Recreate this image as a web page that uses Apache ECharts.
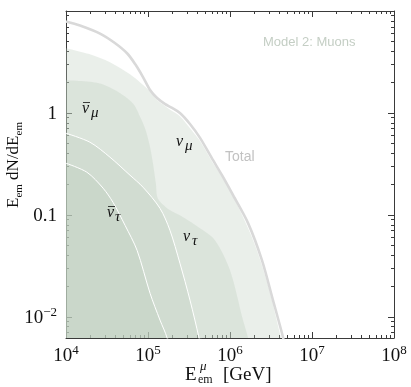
<!DOCTYPE html>
<html>
<head>
<meta charset="utf-8">
<script src="https://cdn.jsdelivr.net/npm/echarts@6/dist/echarts.min.js"></script>
<style>html,body{margin:0;padding:0;background:#fff}#c{width:411px;height:387px}</style>
</head>
<body>
<div id="c"></div>
<script>
// ---- data (E in GeV, dN/dE values) ----
var nuMuX   = [1.0e4, 1.96e4, 3.44e4, 6.03e4, 8.1e4, 1.06e5, 1.3e5, 1.61e5, 1.95e5, 2.45e5, 3.2e5, 4.31e5, 6.21e5, 8.69e5, 1.32e6, 2.02e6, 2.90e6, 4.19e6, 4.56e6];
var nuMuY   = [4.31, 3.76, 3.14, 2.39, 1.98, 1.63, 1.33, 1.17, 1.05, 0.93, 0.72, 0.53, 0.321, 0.214, 0.111, 0.0505, 0.0205, 0.0062, 0.0047];
var nuMuBarX = [1.0e4, 2.52e4, 4.1e4, 6.56e4, 8.2e4, 9.46e4, 1.06e5, 1.15e5, 1.25e5, 1.32e5, 1.8e5, 2.45e5, 4.31e5, 6.56e5, 1.0e6, 1.44e6, 1.66e6, 1.75e6];
var nuMuBarY = [2.09, 1.96, 1.65, 1.24, 0.88, 0.66, 0.46, 0.32, 0.2, 0.145, 0.113, 0.099, 0.074, 0.0565, 0.0287, 0.0093, 0.0062, 0.0045];
var nuTauX  = [1.0e4, 1.96e4, 3.44e4, 6.03e4, 8.69e4, 1.40e5, 1.85e5, 2.45e5, 3.25e5, 4.19e5, 4.5e5];
var nuTauY  = [0.632, 0.516, 0.368, 0.245, 0.187, 0.116, 0.0708, 0.0336, 0.0146, 0.0062, 0.0045];
var nuTauBarX = [1.0e4, 1.80e4, 2.83e4, 3.74e4, 5.25e4, 7.35e4, 1.06e5, 1.40e5, 1.71e5, 1.8e5];
var nuTauBarY = [0.321, 0.262, 0.183, 0.133, 0.079, 0.045, 0.017, 0.0093, 0.0062, 0.0045];
var totalX  = [1.0e4, 1.48e4, 2.60e4, 3.94e4, 5.55e4, 7.0e4, 8.69e4, 1.06e5, 1.29e5, 1.62e5, 1.97e5, 2.45e5, 3.25e5, 4.31e5, 6.21e5, 7.98e5, 1.09e6, 1.66e6, 2.45e6, 3.34e6, 4.43e6, 4.8e6];
var totalY  = [7.9, 7.2, 6.0, 4.85, 3.85, 3.0, 2.25, 1.68, 1.40, 1.22, 1.12, 1.0, 0.78, 0.57, 0.344, 0.245, 0.156, 0.083, 0.036, 0.0146, 0.0063, 0.0045];

// ---- ticks ----
var xMajorTicks = [1e4, 1e5, 1e6, 1e7, 1e8];
var xTickExp    = ['4', '5', '6', '7', '8'];
var yMajorTicks = [0.01, 0.1, 1, 10];
var yTickLabels = ['10^−2', '0.1', '1', ''];
var minorMult   = [2, 3, 4, 5, 6, 7, 8, 9];

function minors(decades) {
  var out = [];
  decades.forEach(function (d) { minorMult.forEach(function (m) { out.push(d * m); }); });
  return out;
}
var xMinorTicks = minors([1e4, 1e5, 1e6, 1e7]);
var yMinorTicks = minors([0.001, 0.01, 0.1, 1]).filter(function (v) { return v > 0.0062 && v < 10; });

function pairs(xs, ys) { return xs.map(function (x, i) { return [x, ys[i]]; }); }

var AX = '#3a3a3a';
var SERIF = '"Liberation Serif","DejaVu Serif",serif';
var SANS = '"Liberation Sans",Arial,sans-serif';
var FILL = 'rgba(190,204,189,0.45)';

var richTick = {
  b: { fontFamily: SERIF, fontSize: 19, color: '#111', lineHeight: 22, verticalAlign: 'bottom' },
  s: { fontFamily: SERIF, fontSize: 13, color: '#111', lineHeight: 22, verticalAlign: 'top', padding: [0, 0, 8, 0] }
};

function xAxisDef(pos, major) {
  return {
    type: 'log', logBase: 10, min: 1e4, max: 1e8, position: pos, gridIndex: 0,
    axisLine: { show: major, onZero: false, lineStyle: { color: AX, width: 1 } },
    axisTick: { show: true, inside: true, length: major ? 6 : 3, lineStyle: { color: AX, width: 1 },
                customValues: major ? xMajorTicks : xMinorTicks },
    axisLabel: { show: major && pos === 'bottom', margin: 6, customValues: xMajorTicks,
      formatter: function (v) {
        var i = xMajorTicks.findIndex(function (t) { return Math.abs(Math.log10(t) - Math.log10(v)) < 1e-6; });
        return i < 0 ? '' : '{b|10}{s|' + xTickExp[i] + '}';
      }, rich: richTick },
    splitLine: { show: false }, minorTick: { show: false }
  };
}
function yAxisDef(pos, major) {
  return {
    type: 'log', logBase: 10, min: 0.0062, max: 10, position: pos, gridIndex: 0,
    axisLine: { show: major, onZero: false, lineStyle: { color: AX, width: 1 } },
    axisTick: { show: true, inside: true, length: major ? 6 : 3, lineStyle: { color: AX, width: 1 },
                customValues: major ? yMajorTicks : yMinorTicks },
    axisLabel: { show: major && pos === 'left', margin: 9, customValues: yMajorTicks,
      formatter: function (v) {
        var i = yMajorTicks.findIndex(function (t) { return Math.abs(Math.log10(t) - Math.log10(v)) < 1e-6; });
        if (i < 0) return '';
        var l = yTickLabels[i];
        if (l.indexOf('^') >= 0) { var p = l.split('^'); return '{b|' + p[0] + '}{s|' + p[1] + '}'; }
        return l ? '{b|' + l + '}' : '';
      }, rich: richTick },
    splitLine: { show: false }, minorTick: { show: false }
  };
}

function area(name, xs, ys, lineW) {
  return {
    name: name, type: 'line', xAxisIndex: 0, yAxisIndex: 0,
    data: pairs(xs, ys), showSymbol: false, symbol: 'none', smooth: 0.3,
    clip: true, silent: true,
    lineStyle: { color: '#ffffff', width: lineW },
    areaStyle: { color: FILL, origin: 'start' }
  };
}

var T = function (x, y, text, font, fill) {
  return { type: 'text', x: x, y: y, z: 100, style: { text: text, font: font, fill: fill || '#111' } };
};

var chart = echarts.init(document.getElementById('c'), null, { renderer: 'canvas' });
chart.setOption({
  animation: false,
  backgroundColor: '#ffffff',
  grid: { left: 66, right: 17, top: 11, bottom: 49, containLabel: false, outerBoundsMode: 'none' },
  xAxis: [xAxisDef('bottom', true), xAxisDef('bottom', false), xAxisDef('top', true), xAxisDef('top', false)],
  yAxis: [yAxisDef('left', true), yAxisDef('left', false), yAxisDef('right', true), yAxisDef('right', false)],
  series: [
    area('ν_μ', nuMuX, nuMuY, 0),
    area('ν̄_μ', nuMuBarX, nuMuBarY, 0),
    area('ν_τ', nuTauX, nuTauY, 1),
    area('ν̄_τ', nuTauBarX, nuTauBarY, 1),
    {
      name: 'Total', type: 'line', xAxisIndex: 0, yAxisIndex: 0, data: pairs(totalX, totalY),
      showSymbol: false, symbol: 'none', smooth: 0.3, clip: true, silent: true, z: 5,
      lineStyle: { color: '#d9d9d9', width: 2.6 }
    }
  ],
  graphic: [
    // y axis title (rotated)
    { type: 'text', x: 14, y: 165, z: 100, rotation: Math.PI / 2,
      style: { text: '{m|E}{s|em}{m| dN/dE}{s|em}', align: 'center', verticalAlign: 'middle',
        rich: {
          m: { fontFamily: SERIF, fontSize: 17, fill: '#111', lineHeight: 22, verticalAlign: 'middle' },
          s: { fontFamily: SERIF, fontSize: 11, fill: '#111', lineHeight: 22, verticalAlign: 'bottom', padding: [5, 0, 0, 0] }
        } } },
    T(263, 36, 'Model 2: Muons', '13px ' + SANS, '#c4cec4'),
    T(225, 150, 'Total', '14px ' + SANS, '#c2c2c2'),
    // nu-bar-mu
    T(82, 101, 'ν', 'italic 16px ' + SERIF),
    { type: 'line', z: 100, shape: { x1: 83, y1: 102.5, x2: 90, y2: 102.5 }, style: { stroke: '#111', lineWidth: 0.8 } },
    T(91, 106, 'μ', 'italic 15px ' + SERIF),
    // nu-mu
    T(176, 134, 'ν', 'italic 16px ' + SERIF),
    T(185, 139, 'μ', 'italic 15px ' + SERIF),
    // nu-bar-tau
    T(107, 205, 'ν', 'italic 16px ' + SERIF),
    { type: 'line', z: 100, shape: { x1: 108, y1: 206.5, x2: 115, y2: 206.5 }, style: { stroke: '#111', lineWidth: 0.8 } },
    T(115, 210, 'τ', 'italic 15px ' + SERIF),
    // nu-tau
    T(183, 229, 'ν', 'italic 16px ' + SERIF),
    T(192, 234, 'τ', 'italic 15px ' + SERIF),
    // x axis title
    T(185, 366, 'E', '19px ' + SERIF),
    T(200, 360, 'μ', 'italic 13px ' + SERIF),
    T(198, 374, 'em', '12px ' + SERIF),
    T(223, 366, '[GeV]', '19px ' + SERIF)
  ]
});
</script>
</body>
</html>
